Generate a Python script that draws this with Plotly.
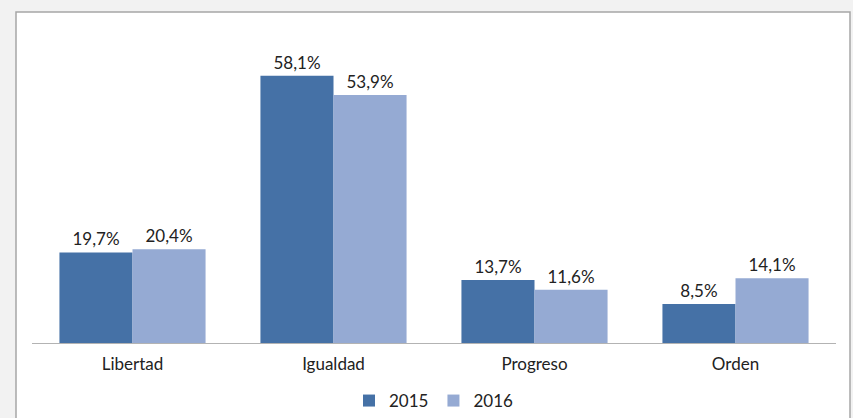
import plotly.graph_objects as go

categories = ["Libertad", "Igualdad", "Progreso", "Orden"]
values_2015 = [19.7, 58.1, 13.7, 8.5]
values_2016 = [20.4, 53.9, 11.6, 14.1]
series_names = ["2015", "2016"]

def fmt(v):
    return f"{v:.1f}".replace(".", ",") + "%"

W, H = 853, 418
ml, mr, mt, mb = 32, 17, 67, 75
pw = W - ml - mr
ph = H - mt - mb

FONT = "Lato, Open Sans, sans-serif"
FS = 17

fig = go.Figure()
fig.add_trace(go.Bar(
    x=categories, y=values_2015, name=series_names[0],
    marker=dict(color="#4571a6", line=dict(width=0)),
    text=[fmt(v) for v in values_2015], textposition="outside",
    textfont=dict(color="#222222", size=FS), cliponaxis=False,
))
fig.add_trace(go.Bar(
    x=categories, y=values_2016, name=series_names[1],
    marker=dict(color="#95aad3", line=dict(width=0)),
    text=[fmt(v) for v in values_2016], textposition="outside",
    textfont=dict(color="#222222", size=FS), cliponaxis=False,
))

def px_x(p):
    return (p - ml) / pw

def px_y(p):
    return (H - mb - p) / ph

fig.add_shape(type="rect", xref="paper", yref="paper",
              x0=px_x(16), x1=px_x(850), y0=px_y(430), y1=px_y(12),
              line=dict(color="#a6a6a6", width=1.5), fillcolor="white",
              layer="below")

fig.update_layout(
    width=W, height=H,
    margin=dict(l=ml, r=mr, t=mt, b=mb, autoexpand=False),
    paper_bgcolor="#f2f2f2", plot_bgcolor="rgba(0,0,0,0)",
    barmode="group", bargap=0.273, bargroupgap=0,
    font=dict(family=FONT, size=FS, color="#222222"),
    showlegend=True,
    legend=dict(orientation="h", x=0.5, xanchor="center",
                yref="container", y=1 - 401 / H, yanchor="middle",
                font=dict(size=FS), itemwidth=30, bgcolor="rgba(0,0,0,0)"),
    xaxis=dict(showline=True, linecolor="#b3b3b3", linewidth=1, showgrid=False,
               ticks="outside", ticklen=6, tickcolor="rgba(0,0,0,0)",
               tickfont=dict(size=FS, color="#222222")),
    yaxis=dict(range=[0, 60], visible=False, showgrid=False),
)

post = (
    "var d=document.documentElement,b=document.body;"
    "d.style.margin='0';d.style.padding='0';d.style.height='418px';d.style.overflow='hidden';"
    "b.style.margin='0';b.style.padding='0';b.style.height='418px';b.style.overflow='hidden';"
    "b.style.background='#f2f2f2';"
)

fig.write_html("out.html", config={"displayModeBar": False}, post_script=post)
